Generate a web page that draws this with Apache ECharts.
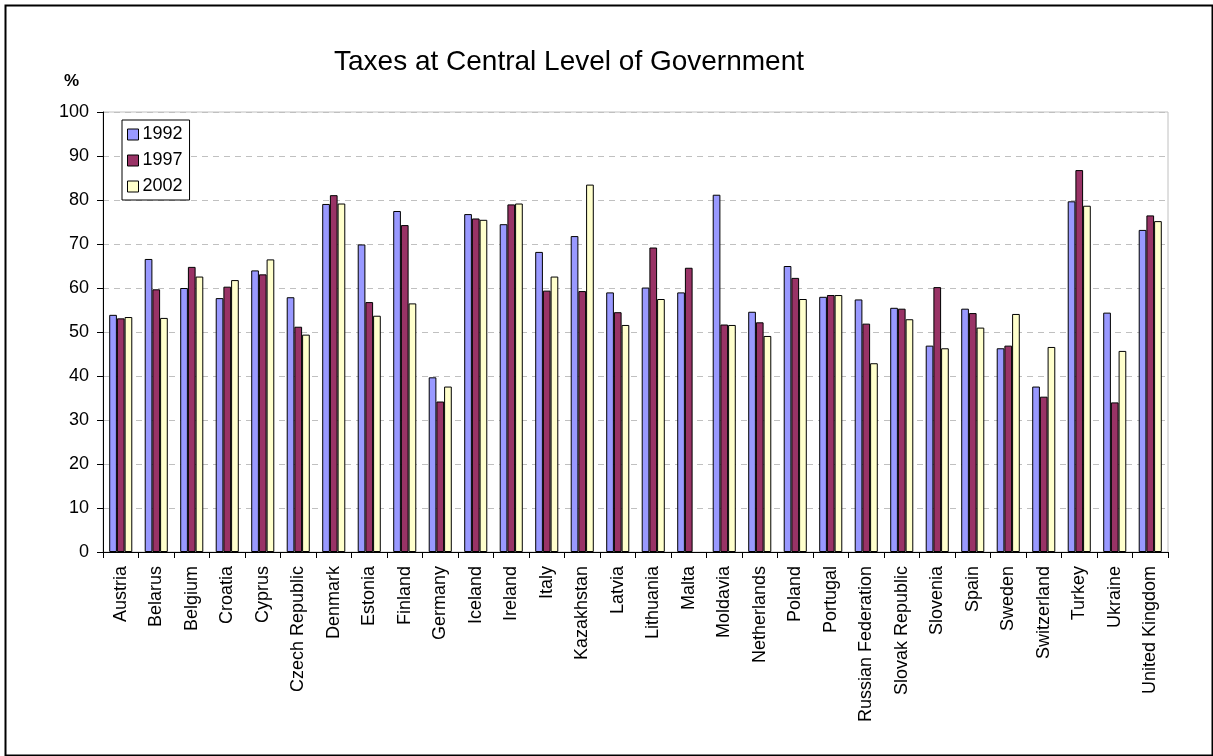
<!DOCTYPE html>
<html>
<head>
<meta charset="utf-8">
<script src="https://cdn.jsdelivr.net/npm/echarts@6/dist/echarts.min.js"></script>
<style>
html,body{margin:0;padding:0;background:#fff;}
#chart{width:1213px;height:756px;}
</style>
</head>
<body>
<div id="chart"></div>
<script>
const categories = ["Austria","Belarus","Belgium","Croatia","Cyprus","Czech Republic","Denmark","Estonia","Finland","Germany","Iceland","Ireland","Italy","Kazakhstan","Latvia","Lithuania","Malta","Moldavia","Netherlands","Poland","Portugal","Russian Federation","Slovak Republic","Slovenia","Spain","Sweden","Switzerland","Turkey","Ukraine","United Kingdom"];
const values1992 = [53.9,66.6,60.0,57.7,64.0,57.9,79.1,69.9,77.5,39.7,76.8,74.5,68.2,71.8,59.0,60.1,59.0,81.2,54.6,65.0,58.0,57.4,55.5,46.9,55.3,46.3,37.6,79.7,54.4,73.2];
const values1997 = [53.1,59.7,64.8,60.3,63.1,51.2,81.1,56.8,74.3,34.2,75.8,79.0,59.4,59.3,54.5,69.2,64.6,51.7,52.2,62.3,58.4,51.9,55.3,60.2,54.3,46.9,35.3,86.8,34.0,76.5];
const values2002 = [53.4,53.2,62.6,61.8,66.5,49.4,79.2,53.7,56.5,37.6,75.5,79.2,62.6,83.5,51.6,57.5,null,51.6,49.1,57.5,58.4,42.9,52.9,46.3,51.0,54.1,46.6,78.7,45.7,75.2];
const seriesNames = ["1992","1997","2002"];
const yTicks = [0,10,20,30,40,50,60,70,80,90,100];

const colors = ["#9999FF","#993366","#FFFFCC"];
const font = "'Liberation Sans', Arial, sans-serif";
const chart = echarts.init(document.getElementById('chart'));
const allValues = [values1992, values1997, values2002];

chart.setOption({
  animation: false,
  backgroundColor: '#fff',
  textStyle: { fontFamily: font, color: '#000' },
  title: {
    text: 'Taxes at Central Level of Government',
    left: 329, top: 43,
    textStyle: { fontFamily: font, fontSize: 28, fontWeight: 'normal', color: '#000' }
  },
  legend: {
    orient: 'vertical',
    left: 122, top: 120,
    data: seriesNames,
    itemWidth: 11, itemHeight: 11,
    itemGap: 7,
    icon: 'rect',
    padding: [5, 7, 4, 5],
    borderColor: '#000', borderWidth: 1,
    backgroundColor: '#fff',
    textStyle: { fontFamily: font, fontSize: 18, color: '#000', lineHeight: 19, padding: [0,0,0,-1] },
    itemStyle: { borderColor: '#000', borderWidth: 1 }
  },
  grid: { left: 103, right: 45, top: 112, bottom: 204, show: true, borderColor: '#c0c0c0', borderWidth: 1 },
  xAxis: {
    type: 'category',
    data: categories,
    axisLine: { lineStyle: { color: '#000', width: 1 } },
    axisTick: { show: true, length: 6, lineStyle: { color: '#000' } },
    axisLabel: { rotate: 90, interval: 0, margin: 14, fontFamily: font, fontSize: 18, color: '#000' }
  },
  yAxis: {
    type: 'value',
    min: yTicks[0], max: yTicks[yTicks.length - 1], interval: 10,
    axisLine: { show: true, lineStyle: { color: '#000', width: 1 } },
    axisTick: { show: true, length: 6, lineStyle: { color: '#000' } },
    axisLabel: { margin: 14, fontFamily: font, fontSize: 18, color: '#000' },
    splitLine: { show: true, lineStyle: { color: '#c0c0c0', type: [6, 5], width: 1 } }
  },
  series: seriesNames.map((name, i) => ({
    name: name,
    type: 'bar',
    data: allValues[i],
    barGap: '0%',
    barCategoryGap: '35%',
    itemStyle: { color: colors[i], borderColor: '#000', borderWidth: 1 }
  })),
  graphic: [
    { type: 'rect', left: 3, top: 3, shape: { width: 1207, height: 750 }, style: { fill: 'none', stroke: '#000', lineWidth: 2 }, silent: true },
    { type: 'text', left: 64, top: 73, style: { text: '%', font: "bold 17px 'Liberation Sans', Arial, sans-serif", fill: '#000' } }
  ]
});
</script>
</body>
</html>
